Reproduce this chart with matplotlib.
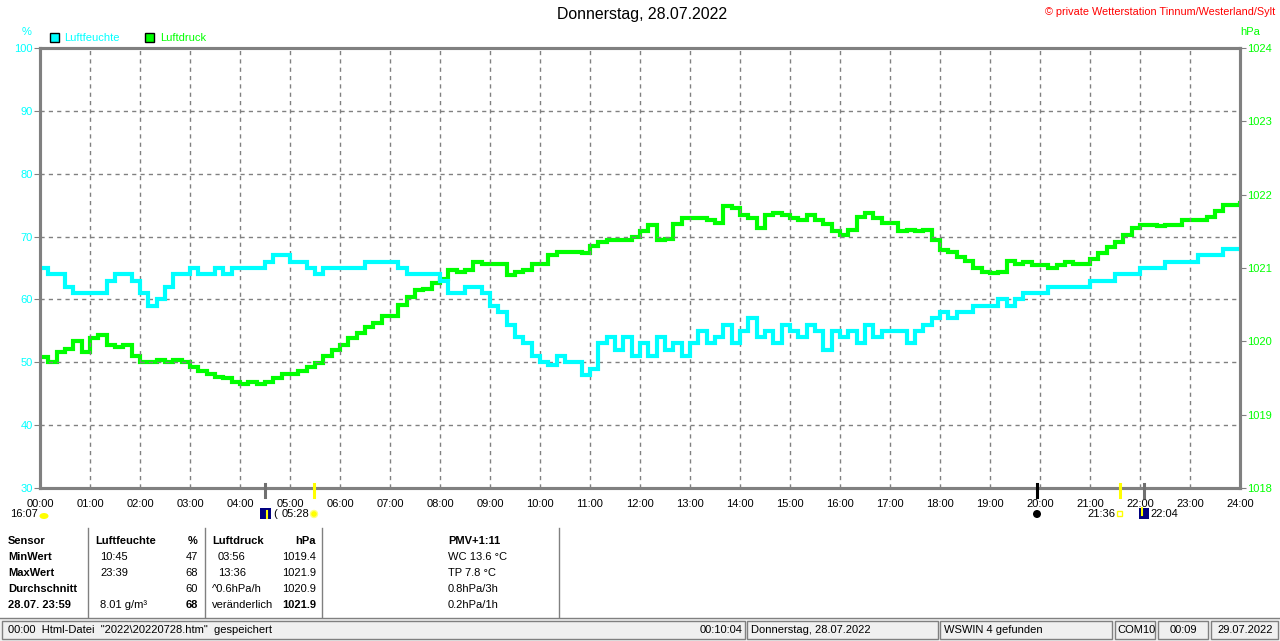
#!/usr/bin/env python3
# WSWIN Tagesgrafik Luftfeuchte / Luftdruck 28.07.2022

import matplotlib
matplotlib.use("Agg")
import matplotlib.pyplot as plt
from matplotlib.patches import Rectangle, Circle, Ellipse
import numpy as np

plt.rcParams['font.family'] = ['Liberation Sans', 'DejaVu Sans']

# Daten, 10-Minuten-Werte 00:00 .. 24:00
feuchte = [
    65, 64, 64, 62, 61, 61,
    61, 61, 63, 64, 64, 63,
    61, 59, 60, 62, 64, 64,
    65, 64, 64, 65, 64, 65,
    65, 65, 65, 66, 67, 67,
    66, 66, 65, 64, 65, 65,
    65, 65, 65, 66, 66, 66,
    66, 65, 64, 64, 64, 64,
    63, 61, 61, 62, 62, 61,
    59, 58, 56, 54, 53, 51,
    50, 49.5, 51, 50, 50, 48,
    49, 53, 54, 52, 54, 51,
    53, 51, 54, 52, 53, 51,
    53, 55, 53, 54, 56, 53,
    55, 57, 54, 55, 53, 56,
    55, 54, 56, 55, 52, 55,
    54, 55, 53, 56, 54, 55,
    55, 55, 53, 55, 56, 57,
    58, 57, 58, 58, 59, 59,
    59, 60, 59, 60, 61, 61,
    61, 62, 62, 62, 62, 62,
    63, 63, 63, 64, 64, 64,
    65, 65, 65, 66, 66, 66,
    66, 67, 67, 67, 68, 68,
    68]

druck = [
    1019.78, 1019.72, 1019.85, 1019.90, 1020.00, 1019.85,
    1020.05, 1020.08, 1019.95, 1019.92, 1019.95, 1019.80,
    1019.72, 1019.72, 1019.75, 1019.72, 1019.75, 1019.72,
    1019.65, 1019.60, 1019.55, 1019.52, 1019.50, 1019.45,
    1019.42, 1019.45, 1019.42, 1019.45, 1019.50, 1019.55,
    1019.55, 1019.60, 1019.65, 1019.70, 1019.80, 1019.88,
    1019.95, 1020.05, 1020.12, 1020.20, 1020.25, 1020.35,
    1020.35, 1020.50, 1020.60, 1020.70, 1020.72, 1020.80,
    1020.85, 1020.97, 1020.95, 1020.97, 1021.08, 1021.05,
    1021.05, 1021.05, 1020.90, 1020.95, 1020.97, 1021.05,
    1021.05, 1021.18, 1021.22, 1021.22, 1021.22, 1021.20,
    1021.30, 1021.35, 1021.38, 1021.38, 1021.38, 1021.42,
    1021.50, 1021.58, 1021.38, 1021.40, 1021.60, 1021.68,
    1021.68, 1021.68, 1021.65, 1021.62, 1021.85, 1021.82,
    1021.72, 1021.68, 1021.55, 1021.72, 1021.75, 1021.72,
    1021.68, 1021.65, 1021.72, 1021.65, 1021.60, 1021.50,
    1021.45, 1021.52, 1021.70, 1021.75, 1021.68, 1021.62,
    1021.62, 1021.50, 1021.52, 1021.50, 1021.52, 1021.38,
    1021.25, 1021.22, 1021.15, 1021.10, 1021.00, 1020.95,
    1020.93, 1020.95, 1021.10, 1021.05, 1021.08, 1021.04,
    1021.04, 1021.00, 1021.04, 1021.08, 1021.05, 1021.06,
    1021.12, 1021.20, 1021.28, 1021.35, 1021.45, 1021.55,
    1021.59, 1021.59, 1021.57, 1021.59, 1021.58, 1021.66,
    1021.65, 1021.66, 1021.70, 1021.78, 1021.86, 1021.86,
    1021.88]

stunden = np.arange(len(feuchte)) / 6.0
xlabels = ["%02d:00" % h for h in range(25)]

# Ereignisse unter der Zeitachse (Stunde, Farbe)
ereignisse = [(4.5, '#707070'), (5.47, '#FFFF00'), (19.93, 'black'), (21.6, '#FFFF00'), (22.07, '#707070')]

tabelle = [
    ["Sensor", "Luftfeuchte", "%", "Luftdruck", "hPa"],
    ["MinWert", "10:45", "47", "03:56", "1019.4"],
    ["MaxWert", "23:39", "68", "13:36", "1021.9"],
    ["Durchschnitt", "", "60", "^0.6hPa/h", "1020.9"],
    ["28.07. 23:59", "8.01 g/m³", "68", "veränderlich", "1021.9"],
]
extra = ["PMV+1:11", "WC 13.6 °C", "TP 7.8 °C", "0.8hPa/3h", "0.2hPa/1h"]

CYAN = '#00FFFF'
GREEN = '#00FF00'
GRAU = '#808080'

fig = plt.figure(figsize=(12.8, 6.41), dpi=100)
W, H = 1280, 641
ax = fig.add_axes([40/W, 1-488/H, 1200/W, 440/H])
ax2 = ax.twinx()

ax.plot(stunden, feuchte, color=CYAN, lw=3, drawstyle='steps-post', solid_joinstyle='miter')
ax2.plot(stunden, druck, color=GREEN, lw=3, drawstyle='steps-post', solid_joinstyle='miter')
ax.set_zorder(ax2.get_zorder()+1)
ax.patch.set_visible(False)

ax.set_xlim(0, 24)
ax.set_ylim(30, 100)
ax2.set_ylim(1018, 1024)
ax.set_xticks(range(25))
ax.set_xticklabels(xlabels, fontsize=8)
ax.set_yticks(range(30, 101, 10))
ax2.set_yticks(range(1018, 1025))
ax.tick_params(axis='x', length=0, pad=8)
ax.tick_params(axis='y', colors=GRAU, labelcolor=CYAN, labelsize=8, length=4, pad=1)
ax2.tick_params(axis='y', colors=GRAU, labelcolor=GREEN, labelsize=8, length=4, pad=1)
for a in (ax, ax2):
    for s in a.spines.values():
        s.set_color(GRAU)
        s.set_linewidth(2.2)
ax.grid(True, color=GRAU, ls=(0, (3, 3)), lw=1)

for t, c in ereignisse:
    ax.plot([t, t], [-0.02, 0.01], color=c, lw=2.2, transform=ax.get_xaxis_transform(), clip_on=False, zorder=5)

# Overlay in Pixelkoordinaten fuer Texte
ov = fig.add_axes([0, 0, 1, 1])
ov.set_xlim(0, W)
ov.set_ylim(H, 0)
ov.axis('off')
ov.patch.set_visible(False)

ov.text(642, 15, "Donnerstag, 28.07.2022", ha='center', va='center', fontsize=11.4)
ov.text(1275, 12, "© private Wetterstation Tinnum/Westerland/Sylt", ha='right', va='center', fontsize=7.8, color='red')
ov.text(27, 32, "%", ha='center', va='center', fontsize=8, color=CYAN)
ov.text(1250, 32, "hPa", ha='center', va='center', fontsize=8, color=GREEN)
ov.add_patch(Rectangle((50, 33), 9, 9, facecolor=CYAN, edgecolor='black', lw=1))
ov.text(64, 38, "Luftfeuchte", va='center', fontsize=8, color=CYAN)
ov.add_patch(Rectangle((145, 33), 9, 9, facecolor=GREEN, edgecolor='black', lw=1))
ov.text(160, 38, "Luftdruck", va='center', fontsize=8, color=GREEN)

# Zeile mit Sonne/Mond
ov.text(10, 514, "16:07", va='center', fontsize=8)
ov.add_patch(Ellipse((44, 516), 9, 6, facecolor='#FFFF00', edgecolor='none'))
ov.add_patch(Rectangle((260, 508), 11, 11, facecolor='#000080', edgecolor='none'))
ov.plot([267, 267], [511, 518], color='#FFFF00', lw=1.5)
ov.text(273, 514, "(", va='center', fontsize=8)
ov.text(282, 514, "05:28", va='center', fontsize=8)
ov.add_patch(Circle((314, 514), 3.5, facecolor='#FFFF00', edgecolor='#FFFF80', lw=1))
ov.add_patch(Circle((1037, 514), 4, facecolor='black', edgecolor='none'))
ov.text(1087, 514, "21:36", va='center', fontsize=8)
ov.add_patch(Rectangle((1117, 511), 5, 5, facecolor='none', edgecolor='#FFFF00', lw=1))
ov.add_patch(Rectangle((1139, 508), 10, 11, facecolor='#000080', edgecolor='none'))
ov.plot([1142, 1142], [508, 515], color='#FFFF00', lw=1.5)
ov.text(1150, 514, "22:04", va='center', fontsize=8)

# Tabelle
for xs in (88, 205, 322, 559):
    ov.plot([xs, xs], [528, 617], color=GRAU, lw=1)
zeilen_y = [541, 557, 573, 589, 605]
for i, row in enumerate(tabelle):
    y = zeilen_y[i]
    kopf = i == 0
    ov.text(8, y, row[0], va='center', fontsize=8, fontweight='bold')
    ov.text(95 if kopf else 100, y, row[1], va='center', fontsize=8, fontweight='bold' if kopf else 'normal')
    ov.text(198, y, row[2], ha='right', va='center', fontsize=8, fontweight='bold' if (kopf or i == 4) else 'normal')
    ov.text(212 if (kopf or i >= 3) else 218, y, row[3], va='center', fontsize=8, fontweight='bold' if kopf else 'normal')
    ov.text(316, y, row[4], ha='right', va='center', fontsize=8, fontweight='bold' if (kopf or i == 4) else 'normal')
for i, s in enumerate(extra):
    ov.text(448, zeilen_y[i], s, va='center', fontsize=8, fontweight='bold' if i == 0 else 'normal')

# Statusleiste
ov.plot([0, W], [618, 618], color=GRAU, lw=1)
ov.add_patch(Rectangle((0, 619), W, 22, facecolor='#F0F0F0', edgecolor='none'))
felder = [(2, 745), (747, 938), (940, 1112), (1115, 1155), (1158, 1208), (1211, 1278)]
for x0, x1 in felder:
    ov.add_patch(Rectangle((x0, 621), x1-x0, 18, facecolor='#F0F0F0', edgecolor=GRAU, lw=1))
ov.text(8, 630, '00:00  Html-Datei  "2022\\20220728.htm"  gespeichert', va='center', fontsize=8)
ov.text(742, 630, "00:10:04", ha='right', va='center', fontsize=8)
ov.text(751, 630, "Donnerstag, 28.07.2022", va='center', fontsize=8)
ov.text(944, 630, "WSWIN 4 gefunden", va='center', fontsize=8)
ov.text(1117, 630, "COM10", va='center', fontsize=8)
ov.text(1183, 630, "00:09", ha='center', va='center', fontsize=8)
ov.text(1245, 630, "29.07.2022", ha='center', va='center', fontsize=8)

fig.savefig("out.png", dpi=100)
